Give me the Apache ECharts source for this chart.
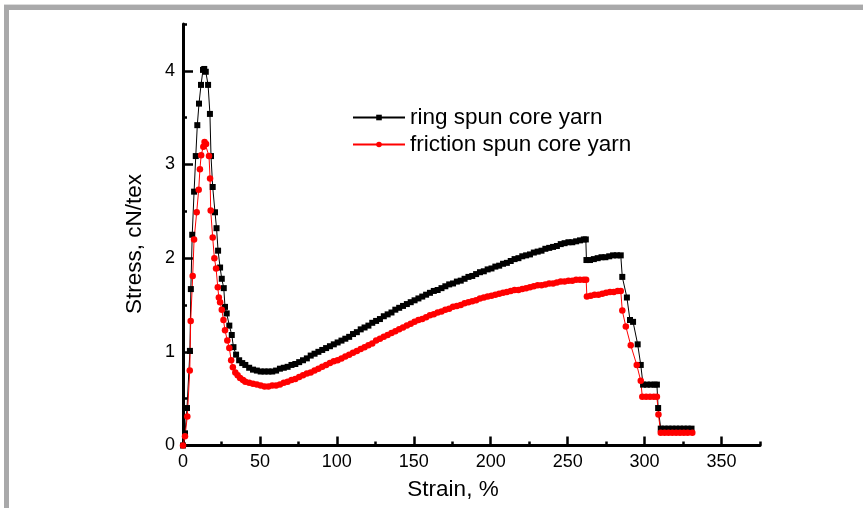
<!DOCTYPE html>
<html>
<head>
<meta charset="utf-8">
<script src="https://cdn.jsdelivr.net/npm/echarts@6/dist/echarts.min.js"></script>
<style>
html,body{margin:0;padding:0;background:#fff;}
#chart{width:863px;height:508px;}
</style>
</head>
<body>
<div id="chart"></div>
<script>
// ---- data ----
var ringStrain = [0,1.3,2.6,4.5,5.1,6.0,7.2,8.3,9.3,10.4,11.7,13.0,13.8,14.8,16.3,17.5,18.2,19.3,20.8,21.8,22.8,24.1,25.2,26.5,27.3,28.4,30.1,31.7,32.8,34.5,36.5,38.5,40.5,43,45.5,48,50.5,53,55.5,58,60.5,63,65.5,68,70.5,73,75.5,78,80.5,83,85.5,88,90.5,93,95.5,98,100.5,103,105.5,108,110.5,113,115.5,118,120.5,123,125.5,128,130.5,133,135.5,138,140.5,143,145.5,148,150.5,153,155.5,158,160.5,163,165.5,168,170.5,173,175.5,178,180.5,183,185.5,188,190.5,193,195.5,198,200.5,203,205.5,208,210.5,213,215.5,218,220.5,223,225.5,228,230.5,233,235.5,238,240.5,243,245.5,248,250.5,253,255.5,258,260.5,261.8,262.2,264.5,267,269.5,272,274.5,277,279.5,282,284.5,285.5,288.5,290.5,292.5,295.5,297.5,299,301.5,304,306.5,308,308.8,310.5,313,315.5,318,320.5,323,325.5,328,330.5];
var ringStress = [0,0.13,0.40,1.01,1.67,2.25,2.71,3.09,3.42,3.65,3.85,4.01,4.02,3.99,3.85,3.54,3.09,2.76,2.49,2.32,2.08,1.90,1.78,1.68,1.48,1.41,1.28,1.18,1.05,0.97,0.91,0.88,0.86,0.83,0.81,0.80,0.79,0.79,0.79,0.79,0.80,0.82,0.83,0.84,0.86,0.87,0.89,0.91,0.93,0.96,0.98,1.00,1.02,1.04,1.06,1.08,1.10,1.12,1.14,1.16,1.19,1.21,1.24,1.26,1.28,1.31,1.33,1.35,1.38,1.40,1.42,1.45,1.47,1.49,1.51,1.53,1.55,1.57,1.59,1.61,1.63,1.65,1.66,1.68,1.70,1.72,1.73,1.75,1.76,1.78,1.80,1.81,1.83,1.85,1.86,1.88,1.89,1.91,1.92,1.94,1.95,1.97,1.99,2.00,2.02,2.03,2.04,2.06,2.07,2.08,2.10,2.11,2.12,2.13,2.15,2.16,2.17,2.17,2.18,2.19,2.20,2.20,1.98,1.98,1.99,2.00,2.01,2.01,2.02,2.03,2.03,2.03,1.80,1.58,1.34,1.32,1.08,0.86,0.65,0.65,0.65,0.65,0.65,0.40,0.18,0.18,0.18,0.18,0.18,0.18,0.18,0.18,0.18];

var frictionStrain = [0,1.3,2.8,4.4,5.0,6.3,7.2,8.9,10.2,11.0,11.8,13.2,14.0,15.0,16.9,17.6,18.0,19.3,20.4,21.5,22.6,23.3,24.1,25.2,26.3,27.3,28.8,30.1,31.3,32.4,34.0,35.5,37.1,39,40.5,43,45.5,48,50.5,53,55.5,58,60.5,63,65.5,68,70.5,73,75.5,78,80.5,83,85.5,88,90.5,93,95.5,98,100.5,103,105.5,108,110.5,113,115.5,118,120.5,123,125.5,128,130.5,133,135.5,138,140.5,143,145.5,148,150.5,153,155.5,158,160.5,163,165.5,168,170.5,173,175.5,178,180.5,183,185.5,188,190.5,193,195.5,198,200.5,203,205.5,208,210.5,213,215.5,218,220.5,223,225.5,228,230.5,233,235.5,238,240.5,243,245.5,248,250.5,253,255.5,258,260.5,262,262.5,265,267.5,270,272.5,275,277.5,280,282.5,284.5,285.5,287.8,291,294.9,297.5,298.5,301,303.5,306,308,309,310.5,313,315.5,318,320.5,323,325.5,328,331];
var frictionStress = [0,0.10,0.31,0.80,1.33,1.81,2.20,2.49,2.73,2.95,3.10,3.19,3.24,3.22,3.09,2.85,2.51,2.22,2.00,1.89,1.69,1.58,1.53,1.45,1.34,1.23,1.12,1.04,0.91,0.835,0.78,0.75,0.72,0.70,0.68,0.67,0.66,0.65,0.64,0.63,0.63,0.64,0.64,0.65,0.67,0.68,0.70,0.71,0.73,0.75,0.77,0.78,0.80,0.82,0.84,0.86,0.88,0.90,0.91,0.93,0.95,0.97,0.99,1.01,1.03,1.05,1.07,1.09,1.12,1.14,1.16,1.18,1.20,1.22,1.24,1.26,1.28,1.30,1.32,1.34,1.35,1.37,1.39,1.40,1.42,1.43,1.45,1.46,1.48,1.49,1.50,1.52,1.53,1.54,1.55,1.57,1.58,1.59,1.60,1.61,1.62,1.63,1.64,1.65,1.66,1.66,1.67,1.68,1.69,1.70,1.71,1.71,1.72,1.73,1.73,1.74,1.75,1.75,1.76,1.76,1.77,1.77,1.77,1.77,1.59,1.60,1.61,1.61,1.62,1.63,1.64,1.64,1.65,1.65,1.44,1.27,1.07,0.86,0.69,0.52,0.52,0.52,0.52,0.52,0.33,0.135,0.135,0.135,0.135,0.135,0.135,0.135,0.135,0.135];

var seriesNames = ['ring spun core yarn', 'friction spun core yarn'];
var xTickLabels = [0,50,100,150,200,250,300,350];
var yTickLabels = [0,1,2,3,4];
var xTitle = 'Strain, %';
var yTitle = 'Stress, cN/tex';

function pairs(xs, ys){ var out=[]; for (var i=0;i<xs.length;i++) out.push([xs[i], ys[i]]); return out; }

var FONT = "'Liberation Sans', Arial, sans-serif";
var chart = echarts.init(document.getElementById('chart'), null, {renderer:'canvas'});

var axisLineStyle = {color:'#000', width:3};
var option = {
  animation: false,
  backgroundColor: '#fff',
  grid: {left:183, right:103, top:24, bottom:62.5, containLabel:false},
  legend: {
    left: 352, top: 106, orient: 'vertical', padding: 0,
    itemWidth: 52, itemHeight: 7, itemGap: 4,
    textStyle: {fontFamily: FONT, fontSize: 22.5, color:'#000', lineHeight: 22},
    data: seriesNames
  },
  xAxis: [{
    type:'value', min:0, max:375, interval:50, position:'bottom',
    axisLine:{show:true, onZero:false, lineStyle:axisLineStyle},
    axisTick:{show:true, inside:true, length:9, lineStyle:{color:'#000', width:2.5}, customValues: xTickLabels},
    axisLabel:{show:true, customValues: xTickLabels, margin:8, fontFamily:FONT, fontSize:18, color:'#000'},
    splitLine:{show:false}
  },{
    type:'value', min:0, max:375, interval:25, position:'bottom',
    axisLine:{show:false},
    axisTick:{show:true, inside:true, length:4, lineStyle:{color:'#000', width:2.5}},
    axisLabel:{show:false}, splitLine:{show:false}
  }],
  yAxis: [{
    type:'value', min:0, max:4.5, interval:1, position:'left',
    axisLine:{show:true, onZero:false, lineStyle:axisLineStyle},
    axisTick:{show:true, inside:true, length:10, lineStyle:{color:'#000', width:2.5}, customValues: yTickLabels},
    axisLabel:{show:true, customValues: yTickLabels, margin:8, fontFamily:FONT, fontSize:18, color:'#000'},
    splitLine:{show:false}
  },{
    type:'value', min:0, max:4.5, interval:0.5, position:'left',
    axisLine:{show:false},
    axisTick:{show:true, inside:true, length:4, lineStyle:{color:'#000', width:2.5}},
    axisLabel:{show:false}, splitLine:{show:false}
  }],
  graphic: [
    {type:'rect', shape:{x:4, y:4, width:859, height:1}, style:{fill:'#dcdcdc'}, silent:true},
    {type:'rect', shape:{x:4, y:5, width:859, height:5}, style:{fill:'#a9a9aa'}, silent:true},
    {type:'rect', shape:{x:4, y:5, width:5, height:503}, style:{fill:'#a9a9aa'}, silent:true},
    {type:'text', x:453, y:490, style:{text:xTitle, font:'22.5px ' + FONT, fill:'#000', textAlign:'center', textVerticalAlign:'middle'}},
    {type:'text', x:135, y:244, rotation:Math.PI/2, style:{text:yTitle, font:'22.5px ' + FONT, fill:'#000', textAlign:'center', textVerticalAlign:'middle'}}
  ],
  series: [{
    name: seriesNames[0], type:'line', xAxisIndex:0, yAxisIndex:0,
    data: pairs(ringStrain, ringStress),
    symbol:'rect', symbolSize:6, showSymbol:true,
    lineStyle:{color:'#000', width:1}, itemStyle:{color:'#000'}
  },{
    name: seriesNames[1], type:'line', xAxisIndex:0, yAxisIndex:0,
    data: pairs(frictionStrain, frictionStress),
    symbol:'circle', symbolSize:6.5, showSymbol:true,
    lineStyle:{color:'#ff0000', width:1}, itemStyle:{color:'#ff0000'}
  }]
};
chart.setOption(option);
</script>
</body>
</html>
